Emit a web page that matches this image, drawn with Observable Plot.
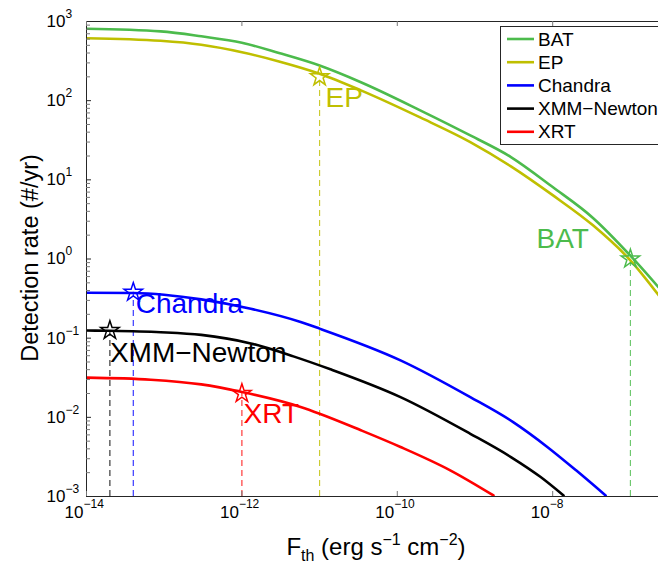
<!DOCTYPE html>
<html><head><meta charset="utf-8">
<script src="https://cdn.jsdelivr.net/npm/d3@7"></script>
<script src="https://cdn.jsdelivr.net/npm/@observablehq/plot@0.6"></script>
<style>
body{margin:0;background:#fff}
#chart{position:relative;width:658px;height:564px;overflow:hidden}
</style>
</head><body><div id="chart"></div>
<script>
// ---- data ----
const seriesNames = ["BAT", "EP", "Chandra", "XMM\u2212Newton", "XRT"];
const seriesColors = ["#4cbb4c", "#bfbf00", "#0000ff", "#000000", "#ff0000"];

const batF = [1e-14, 9e-14, 3e-13, 1e-12, 3e-12, 1e-11, 3.4e-11, 2e-10, 8.7e-10, 2.9e-9, 1e-8, 3.3e-8, 1e-7, 2.3e-7];
const batR = [810, 750, 650, 540, 400, 278, 171, 75, 36.4, 19.4, 8.1, 3.3, 1.1, 0.44];
const epF  = [1e-14, 9e-14, 3e-13, 1e-12, 3e-12, 1e-11, 3.4e-11, 2e-10, 8.7e-10, 2.9e-9, 1e-8, 3.3e-8, 1e-7, 2.3e-7];
const epR  = [615, 570, 508, 409, 313, 219, 135, 61, 30, 14.8, 6.4, 2.66, 0.96, 0.35];
const chandraF = [1e-14, 4e-14, 3e-13, 1.3e-12, 5.7e-12, 1e-11, 1.1e-10, 8.7e-10, 3.1e-9, 8.6e-9, 2e-8, 4.8e-8];
const chandraR = [0.375, 0.372, 0.309, 0.235, 0.16, 0.132, 0.0525, 0.018, 0.0087, 0.0042, 0.00214, 0.00103];
const xmmF = [1e-14, 2e-14, 9e-14, 3e-13, 1.3e-12, 4.6e-12, 1.38e-11, 1.1e-10, 8.7e-10, 2.9e-9, 7e-9, 1.38e-8];
const xmmR = [0.125, 0.124, 0.119, 0.110, 0.0859, 0.0589, 0.0404, 0.018, 0.0062, 0.00315, 0.00176, 0.00103];
const xrtF = [1e-14, 6.7e-14, 3e-13, 1e-12, 5.7e-12, 1e-11, 3.4e-11, 1.1e-10, 4.8e-10, 1.73e-9];
const xrtR = [0.0317, 0.0299, 0.0261, 0.0209, 0.0135, 0.0111, 0.00686, 0.00422, 0.00214, 0.00103];

// detection-limit markers (star) per instrument, same order as seriesNames
const starF = [1e-7, 1e-11, 4e-14, 2e-14, 1e-12];
const starR = [1, 200, 0.38, 0.125, 0.02];
// in-plot text labels (left edge / baseline in data coordinates)
const labelText = ["BAT", "EP", "Chandra", "XMM\u2212Newton", "XRT"];
const labelF = [6.2e-9, 1.19e-11, 4.3e-14, 2e-14, 1.05e-12];
const labelR = [1.36, 82, 0.206, 0.05, 0.0084];

const xTicks = [1e-14, 1e-12, 1e-10, 1e-8];
const yTicks = [1e-3, 1e-2, 1e-1, 1e0, 1e1, 1e2, 1e3];
const yMinorMult = [2, 3, 4, 5, 6, 7, 8, 9];

// ---- build ----
const curvesF = [batF, epF, chandraF, xmmF, xrtF];
const curvesR = [batR, epR, chandraR, xmmR, xrtR];
const curves = seriesNames.map((name, i) => curvesF[i].map((F, j) => ({name, F, R: curvesR[i][j]})));
const yMinor = yTicks.slice(0, -1).flatMap(d => yMinorMult.map(m => d * m));
const expText = d => { const e = Math.round(Math.log10(d)); return (e < 0 ? "\u2212" : "") + Math.abs(e); };

const W = 658, H = 564, mL = 86, mR = 0, mT = 21, mB = 68;
const pw = W - mL - mR, ph = H - mT - mB;
const axisColor = "#262626";
const font = "'Liberation Sans', Arial, Helvetica, sans-serif";

const marks = [];
// dashed drop lines
seriesNames.forEach((n, i) => {
  marks.push(Plot.ruleX([{F: starF[i], R: starR[i]}], {x: "F", y1: () => 1e-3, y2: "R", stroke: seriesColors[i], strokeWidth: 1.1, strokeOpacity: 0.85, strokeDasharray: "6,4"}));
});
// curves
seriesNames.forEach((n, i) => {
  marks.push(Plot.line(curves[i], {x: "F", y: "R", stroke: seriesColors[i], strokeWidth: 2.6, curve: "monotone-x", clip: true}));
});
// stars
seriesNames.forEach((n, i) => {
  marks.push(Plot.dot([{F: starF[i], R: starR[i]}], {x: "F", y: "R", symbol: "star", r: 5.8, stroke: seriesColors[i], strokeWidth: 1.5, fill: "none"}));
});
// labels
seriesNames.forEach((n, i) => {
  marks.push(Plot.text([{F: labelF[i], R: labelR[i], t: labelText[i]}], {x: "F", y: "R", text: "t", textAnchor: "start", lineAnchor: "bottom", fontSize: 28, fill: seriesColors[i]}));
});
// frame lines
marks.push(Plot.ruleY([1e3], {stroke: axisColor}));
marks.push(Plot.ruleY([1e-3], {stroke: axisColor}));
marks.push(Plot.ruleX([1e-14], {stroke: axisColor}));
// ticks (inward)
marks.push(Plot.tickY(yTicks, {y: d => d, insetRight: pw - 5, stroke: axisColor}));
marks.push(Plot.tickY(yMinor, {y: d => d, insetRight: pw - 4, stroke: "#777"}));
marks.push(Plot.tickX(xTicks, {x: d => d, insetTop: ph - 5, stroke: "#777"}));
marks.push(Plot.tickX(xTicks, {x: d => d, insetBottom: ph - 5, stroke: "#777"}));
// tick labels
marks.push(Plot.text(yTicks, {y: d => d, frameAnchor: "left", text: () => "10", textAnchor: "end", dx: -21, fontSize: 17, fill: "#000"}));
marks.push(Plot.text(yTicks, {y: d => d, frameAnchor: "left", text: expText, textAnchor: "start", dx: -21, dy: -7.5, fontSize: 12, fill: "#000"}));
marks.push(Plot.text(xTicks, {x: d => d, frameAnchor: "bottom", text: () => "10", textAnchor: "end", dx: -3, dy: 21, fontSize: 17, fill: "#000"}));
marks.push(Plot.text(xTicks, {x: d => d, frameAnchor: "bottom", text: expText, textAnchor: "start", dx: -3, dy: 11.5, fontSize: 12, fill: "#000"}));

const chart = Plot.plot({
  width: W, height: H,
  marginLeft: mL, marginRight: mR, marginTop: mT, marginBottom: mB,
  x: {type: "log", domain: [1e-14, 2.3e-7], axis: null},
  y: {type: "log", domain: [1e-3, 1e3], axis: null},
  style: {fontFamily: font, background: "#fff", overflow: "visible"},
  marks
});
document.getElementById("chart").appendChild(chart);

// axis titles with sub/superscripts, and legend
const svg = d3.select(chart);
const xl = svg.append("text").attr("x", 376).attr("y", 555).attr("text-anchor", "middle")
  .attr("font-size", 24).attr("font-family", font).attr("fill", "#000");
xl.append("tspan").text("F");
xl.append("tspan").attr("font-size", 16).attr("dy", 6).text("th");
xl.append("tspan").attr("dy", -6).text(" (erg s");
xl.append("tspan").attr("font-size", 16).attr("dy", -10).text("\u22121");
xl.append("tspan").attr("dy", 10).text(" cm");
xl.append("tspan").attr("font-size", 16).attr("dy", -10).text("\u22122");
xl.append("tspan").attr("dy", 10).text(")");

svg.append("text").attr("transform", "translate(38,258) rotate(-90)").attr("text-anchor", "middle")
  .attr("font-size", 23.5).attr("font-family", font).attr("fill", "#000").text("Detection rate (#/yr)");

const lg = svg.append("g").attr("font-family", font).attr("font-size", 19).attr("text-anchor", "start");
lg.append("rect").attr("x", 500.5).attr("y", 26.5).attr("width", 180).attr("height", 118)
  .attr("fill", "#fff").attr("stroke", axisColor).attr("stroke-width", 1);
seriesNames.forEach((n, i) => {
  const y = 39 + i * 23.2;
  lg.append("line").attr("x1", 507).attr("x2", 534).attr("y1", y).attr("y2", y)
    .attr("stroke", seriesColors[i]).attr("stroke-width", 2.6);
  lg.append("text").attr("x", 538).attr("y", y).attr("dy", "0.35em").attr("text-anchor", "start").attr("fill", "#000").text(n);
});
</script>
</body></html>
